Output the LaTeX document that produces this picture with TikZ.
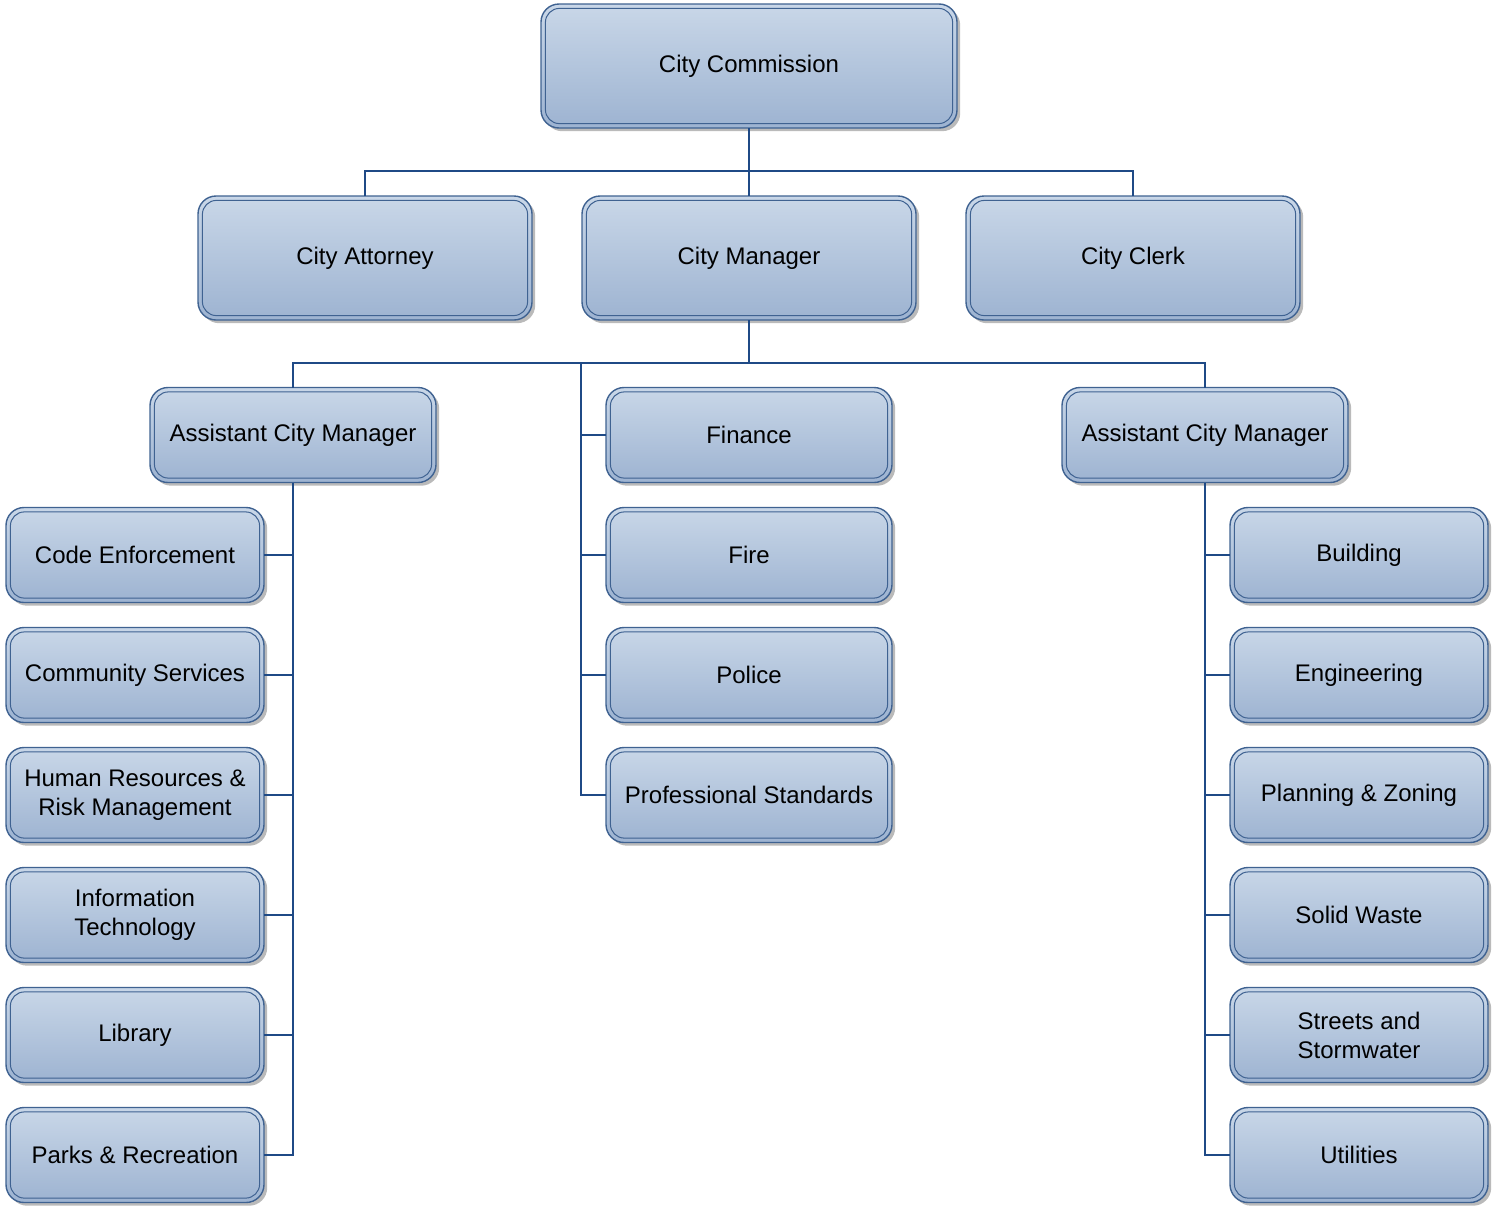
\documentclass[tikz,border=0pt]{standalone}
\usepackage{fontspec}
\setmainfont{Liberation Sans}
\usepackage{tikz}
\usetikzlibrary{positioning, shadows}

\definecolor{boxtop}{HTML}{C9D7E8}
\definecolor{boxbot}{HTML}{9DB3D1}
\definecolor{boxline}{HTML}{3F6291}
\definecolor{linkblue}{HTML}{1F4A86}

\tikzset{
  unit/.style={rounded corners=9pt, draw=boxline, line width=0.7pt, outer sep=0pt,
    top color=boxtop, bottom color=boxbot, align=center,
    font=\fontsize{12}{14.5}\selectfont,
    drop shadow={shadow xshift=1.6pt, shadow yshift=-1.6pt, fill=black!45, opacity=0.6},
    path picture={\draw[boxline, line width=0.5pt, rounded corners=7pt]
      ([shift={(2.2pt,2.2pt)}]path picture bounding box.south west) rectangle
      ([shift={(-2.2pt,-2.2pt)}]path picture bounding box.north east);}},
  top/.style={unit, minimum width=208pt, minimum height=62pt},
  head/.style={unit, minimum width=167pt, minimum height=62pt},
  dept/.style={unit, minimum width=143pt, minimum height=47.5pt},
  side/.style={unit, minimum width=129pt, minimum height=47.5pt},
  link/.style={draw=linkblue, line width=1.3pt}
}

\begin{document}
\begin{tikzpicture}[x=0.5pt, y=-0.5pt]
  \useasboundingbox (0,0) rectangle (1492,1205);

  \node[top] (comm) at (749,66) {City Commission};
    \node[head] (atty) at (365,258) {City Attorney};
    \node[head] (mgr) at (749,258) {City Manager};
    \node[head] (clerk) at (1133,258) {City Clerk};

  \node[dept] (acmL) at (293,435) {Assistant City Manager};
  \node[dept] (fin) at (749,435) {Finance};
  \node[dept] (acmR) at (1205,435) {Assistant City Manager};

  % middle column
  \node[dept, below = 12.5pt of fin] (fire) {Fire};
  \node[dept, below = 12.5pt of fire] (police) {Police};
  \node[dept, below = 12.5pt of police] (prof) {Professional Standards};

  % left column
  \node[side] (code) at (135,555) {Code Enforcement};
  \node[side, below = 12.5pt of code] (comsvc) {Community Services};
  \node[side, below = 12.5pt of comsvc] (hr) {Human Resources \&\\Risk Management};
  \node[side, below = 12.5pt of hr] (it) {Information\\Technology};
  \node[side, below = 12.5pt of it] (lib) {Library};
  \node[side, below = 12.5pt of lib] (parks) {Parks \& Recreation};

  % right column
  \node[side] (bldg) at (1359,555) {Building};
  \node[side, below = 12.5pt of bldg] (eng) {Engineering};
  \node[side, below = 12.5pt of eng] (plan) {Planning \& Zoning};
  \node[side, below = 12.5pt of plan] (waste) {Solid Waste};
  \node[side, below = 12.5pt of waste] (streets) {Streets and\\Stormwater};
  \node[side, below = 12.5pt of streets] (util) {Utilities};

  \coordinate (bus1) at (749,171);
  \coordinate (bus2) at (749,363);
  \coordinate (spine) at (581,363);

  \draw[link] (comm.south) -- (mgr.north);
  \draw[link] (atty.north) |- (bus1) -| (clerk.north);

  \draw[link] (mgr.south) -- (bus2);
  \draw[link] (acmL.north) |- (bus2) -| (acmR.north);
  \draw[link] (bus2) -- (spine) |- (prof.west);
  \foreach \n in {fin, fire, police}
    \draw[link] (spine |- \n.west) -- (\n.west);

  \draw[link] (acmL.south) |- (parks.east);
  \foreach \n in {code, comsvc, hr, it, lib}
    \draw[link] (acmL.south |- \n.east) -- (\n.east);

  \draw[link] (acmR.south) |- (util.west);
  \foreach \n in {bldg, eng, plan, waste, streets}
    \draw[link] (acmR.south |- \n.west) -- (\n.west);

\end{tikzpicture}
\end{document}
